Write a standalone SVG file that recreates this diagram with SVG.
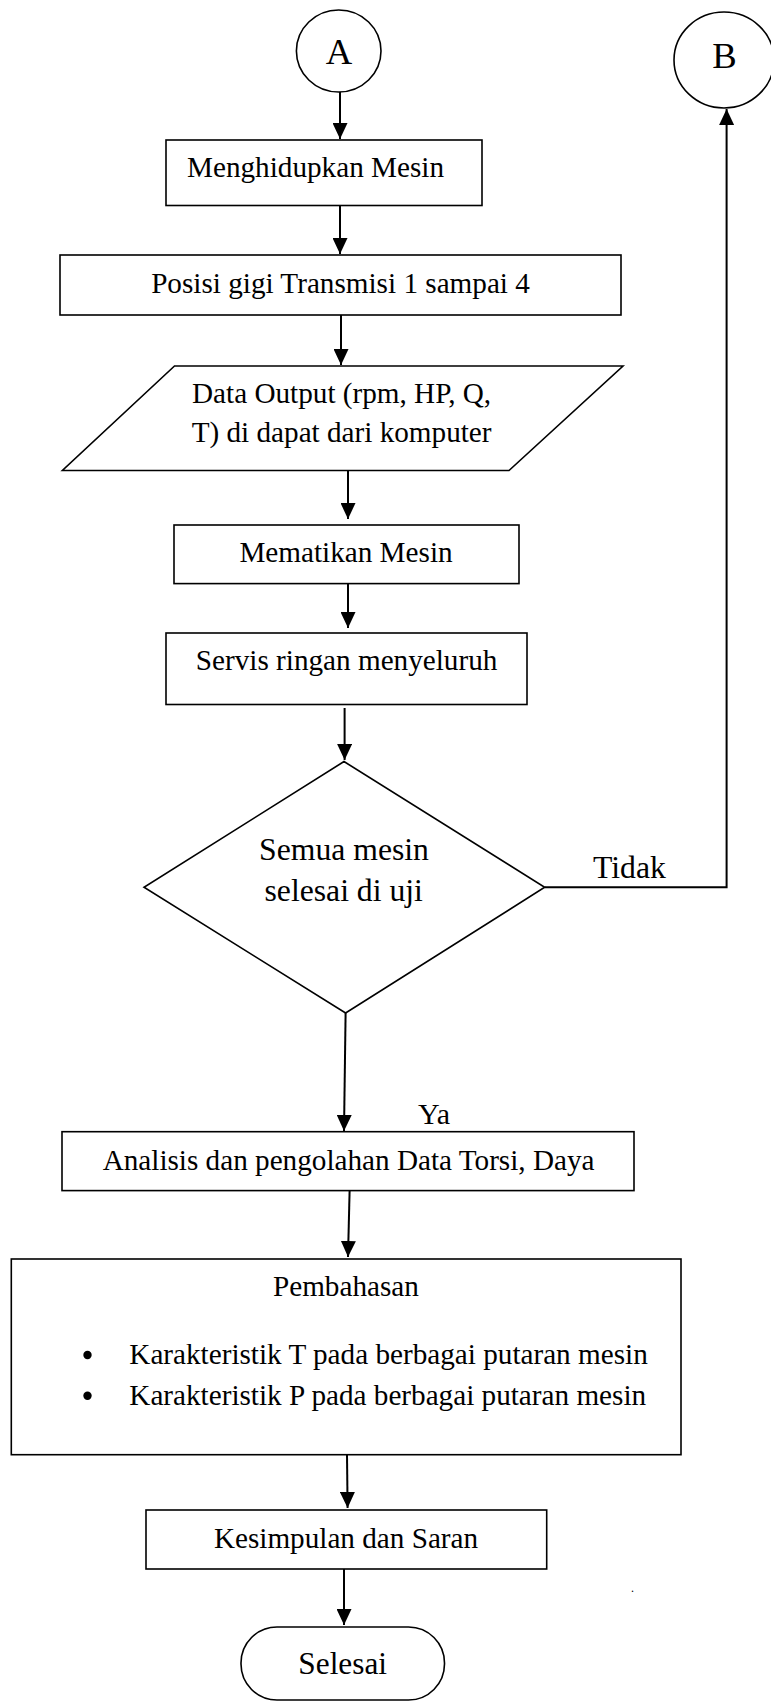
<svg xmlns="http://www.w3.org/2000/svg" width="771" height="1702" viewBox="0 0 771 1702">
<style>
.shape{fill:#fff;stroke:#000;stroke-width:1.6}
.t{font-family:"Liberation Serif","Times New Roman",serif;font-size:29.2px;fill:#000}
.c{text-anchor:middle}
.big{font-size:31.7px}
.conn{fill:none;stroke:#000;stroke-width:2}
</style>
<defs>
<marker id="ah" markerUnits="userSpaceOnUse" markerWidth="16" markerHeight="15" refX="16" refY="7.5" orient="auto">
<path d="M0,0 L16,7.5 L0,15 Z" fill="#000"/>
</marker>
</defs>
<rect width="771" height="1702" fill="#fff"/>
<g id="connectors">
<line class="conn" x1="340" y1="92" x2="340" y2="139" marker-end="url(#ah)"/>
<line class="conn" x1="340" y1="206" x2="340" y2="254" marker-end="url(#ah)"/>
<line class="conn" x1="341" y1="315" x2="341" y2="365" marker-end="url(#ah)"/>
<line class="conn" x1="348" y1="471" x2="348" y2="519" marker-end="url(#ah)"/>
<line class="conn" x1="348" y1="584" x2="348" y2="628" marker-end="url(#ah)"/>
<line class="conn" x1="344.6" y1="708" x2="344.6" y2="760" marker-end="url(#ah)"/>
<polyline class="conn" points="544.7,887.3 726.6,887.3 726.6,109" marker-end="url(#ah)"/>
<line class="conn" x1="345.6" y1="1013" x2="344" y2="1131" marker-end="url(#ah)"/>
<line class="conn" x1="349.6" y1="1191" x2="348" y2="1257" marker-end="url(#ah)"/>
<line class="conn" x1="347" y1="1455" x2="347.6" y2="1508" marker-end="url(#ah)"/>
<line class="conn" x1="344" y1="1569" x2="344" y2="1625" marker-end="url(#ah)"/>
<text class="t big" x="593" y="878">Tidak</text>
<text class="t" x="418" y="1124" style="font-size:30px">Ya</text>
</g>
<g id="nodeA">
<ellipse class="shape" cx="338.7" cy="51" rx="42.3" ry="41"/>
<text class="t c" x="339" y="64" style="font-size:36.7px">A</text>
</g>
<g id="nodeB">
<ellipse class="shape" cx="724" cy="60" rx="50" ry="48"/>
<text class="t c" x="724.5" y="68" style="font-size:36.7px">B</text>
</g>
<g id="menghidupkan">
<rect class="shape" x="166" y="140" width="316" height="65.5"/>
<text class="t" x="187" y="177">Menghidupkan Mesin</text>
</g>
<g id="posisi">
<rect class="shape" x="60" y="255" width="561" height="60"/>
<text class="t c" x="340.5" y="292.5">Posisi gigi Transmisi 1 sampai 4</text>
</g>
<g id="dataoutput">
<polygon class="shape" points="174.5,366 623,366 509,470.5 62.4,470.5"/>
<text class="t c" x="341.6" y="403">Data Output (rpm, HP, Q,</text>
<text class="t c" x="341.6" y="441.5">T) di dapat dari komputer</text>
</g>
<g id="mematikan">
<rect class="shape" x="174" y="525" width="345" height="58.6"/>
<text class="t c" x="346" y="562">Mematikan Mesin</text>
</g>
<g id="servis">
<rect class="shape" x="166" y="633" width="361" height="71.5"/>
<text class="t c" x="346.6" y="670">Servis ringan menyeluruh</text>
</g>
<g id="decision">
<polygon class="shape" points="344,761.5 544.7,887.3 345.6,1013 144,887.3"/>
<text class="t c big" x="344" y="860">Semua mesin</text>
<text class="t c big" x="343.7" y="901">selesai di uji</text>
</g>
<g id="analisis">
<rect class="shape" x="62" y="1131.7" width="572" height="58.9"/>
<text class="t c" x="348.6" y="1169.5">Analisis dan pengolahan Data Torsi, Daya</text>
</g>
<g id="pembahasan">
<rect class="shape" x="11.3" y="1259" width="669.7" height="195.7"/>
<text class="t c" x="345.9" y="1296.4">Pembahasan</text>
<circle cx="87.5" cy="1355" r="4.2" fill="#000"/>
<text class="t" x="129.3" y="1363.7">Karakteristik T pada berbagai putaran mesin</text>
<circle cx="87.5" cy="1395.7" r="4.2" fill="#000"/>
<text class="t" x="129.3" y="1404.5">Karakteristik P pada berbagai putaran mesin</text>
</g>
<g id="kesimpulan">
<rect class="shape" x="146" y="1510" width="400.7" height="59"/>
<text class="t c" x="346" y="1548">Kesimpulan dan Saran</text>
</g>
<g id="selesai">
<rect class="shape" x="241" y="1627" width="203.5" height="73" rx="36" ry="36"/>
<text class="t c" x="342.7" y="1674" style="font-size:31.3px">Selesai</text>
</g>
<text class="t" x="631" y="1592" style="font-size:12px">.</text>
</svg>
